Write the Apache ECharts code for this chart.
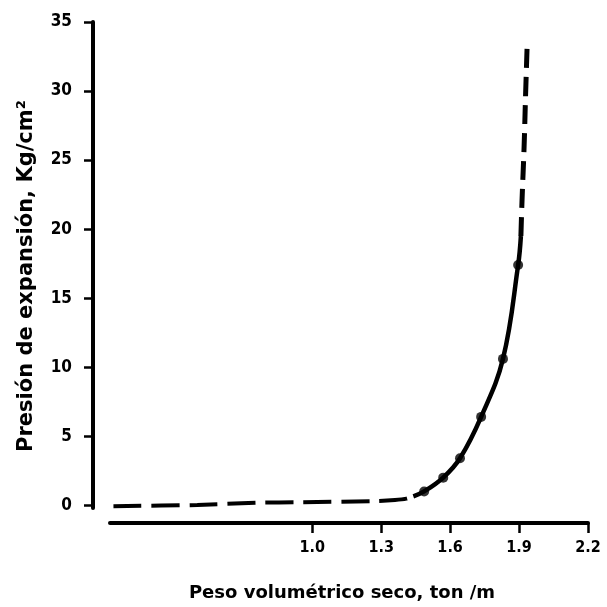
<!DOCTYPE html>
<html>
<head>
	<meta charset="utf-8">
	<title></title>
	<style>
		html, body { margin: 0; padding: 0; background: #fff; }
		#chart { width: 607px; height: 607px; }
	</style>
</head>
<body>
<div id="chart"></div>
<script src="https://cdn.jsdelivr.net/npm/echarts@6/dist/echarts.min.js"></script>
<script type="text/javascript">
// valores
var xTicks = [1.0, 1.3, 1.6, 1.9, 2.2];
var yTicks = [0, 5, 10, 15, 20, 25, 30, 35];
var puntos = [[1.487, 1.0], [1.57, 2.0], [1.643, 3.4], [1.735, 6.4], [1.83, 10.6], [1.896, 17.4]];
var curvaSolida = [[1.44, 0.65], [1.487, 1.0], [1.57, 2.0], [1.643, 3.4], [1.735, 6.4], [1.83, 10.6], [1.896, 17.4], [1.908, 19.5]];
var curvaBaja = [[0.135, -0.07], [0.5, 0.02], [0.76, 0.18], [0.95, 0.22], [1.27, 0.3], [1.36, 0.38], [1.41, 0.48], [1.44, 0.65]];
var curvaAlta = [[1.908, 19.5], [1.913, 22.1], [1.922, 26.0], [1.928, 29.5], [1.935, 33.2]];

var fuente = 'DejaVu Sans';
var fuenteNum = 'DejaVu Sans Condensed';

var chart = echarts.init(document.getElementById('chart'), null, {renderer: 'canvas'});
chart.setOption({
	animation: false,
	backgroundColor: '#fff',
	grid: { left: 110, right: 19, top: 22, bottom: 98 },
	xAxis: {
		type: 'value',
		min: 0.12,
		max: 2.2,
		offset: 15,
		splitLine: { show: false },
		axisLine: { onZero: false, lineStyle: { color: '#000', width: 4 } },
		axisTick: { customValues: xTicks, length: 10, lineStyle: { color: '#000', width: 2.5 } },
		axisLabel: {
			customValues: xTicks,
			margin: 17,
			color: '#000',
			fontFamily: fuenteNum,
			fontWeight: 'bold',
			fontSize: 16,
			formatter: function (v) { return v.toFixed(1); }
		},
		name: 'Peso volumétrico seco, ton /m',
		nameLocation: 'middle',
		nameGap: 61,
		nameTextStyle: { color: '#000', fontFamily: fuente, fontWeight: 'bold', fontSize: 18, padding: [0, 14, 0, 0] }
	},
	yAxis: {
		type: 'value',
		min: -0.2,
		max: 35,
		offset: 17,
		splitLine: { show: false },
		axisLine: { onZero: false, lineStyle: { color: '#000', width: 4 } },
		axisTick: { customValues: yTicks, length: 9, lineStyle: { color: '#000', width: 2.5 } },
		axisLabel: {
			customValues: yTicks,
			margin: 21,
			color: '#000',
			fontFamily: fuenteNum,
			fontWeight: 'bold',
			fontSize: 17
		},
		name: 'Presión de expansión, Kg/cm²',
		nameLocation: 'middle',
		nameGap: 56,
		nameTextStyle: { color: '#000', fontFamily: fuente, fontWeight: 'bold', fontSize: 21, padding: [0, 22, 0, 0] }
	},
	series: [
		{
			type: 'line',
			data: curvaBaja,
			symbol: 'none',
			smooth: 0.3,
			lineStyle: { color: '#000', width: 4, type: [28, 10] }
		},
		{
			type: 'line',
			data: curvaSolida,
			showSymbol: false,
			smooth: 0.4,
			lineStyle: { color: '#000', width: 4.5 }
		},
		{
			type: 'line',
			data: curvaAlta,
			showSymbol: false,
			smooth: 0.4,
			lineStyle: { color: '#000', width: 5, type: [19, 9] }
		},
		{
			type: 'scatter',
			data: puntos,
			symbolSize: 10,
			itemStyle: { color: '#000' }
		}
	]
});
</script>
</body>
</html>
